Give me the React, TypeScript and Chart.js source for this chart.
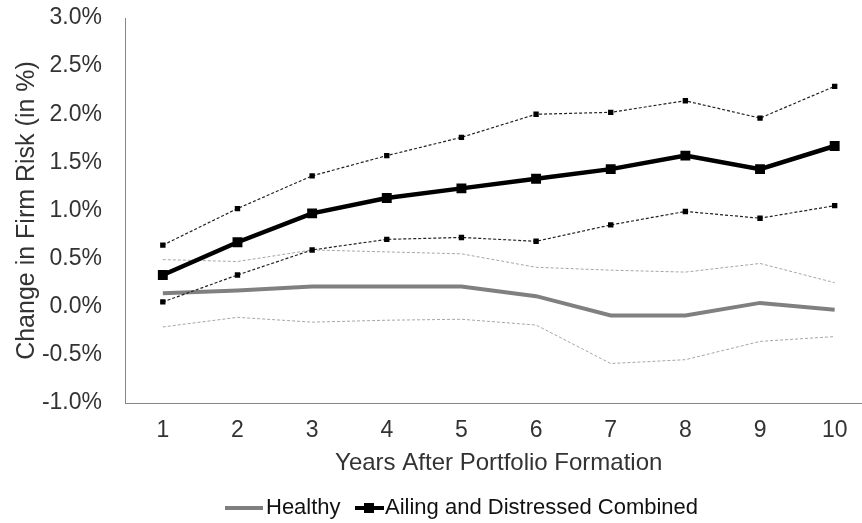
import React, { useEffect, useRef } from "react";
import { Chart, registerables } from "chart.js";

Chart.register(...registerables);

const years = [1, 2, 3, 4, 5, 6, 7, 8, 9, 10];
const yearLabels = ["1", "2", "3", "4", "5", "6", "7", "8", "9", "10"];

const healthy = [0.14, 0.17, 0.21, 0.21, 0.21, 0.11, -0.09, -0.09, 0.04, -0.03];
const healthyUpper = [0.49, 0.47, 0.59, 0.57, 0.55, 0.41, 0.38, 0.36, 0.45, 0.25];
const healthyLower = [-0.21, -0.11, -0.16, -0.14, -0.13, -0.19, -0.59, -0.55, -0.36, -0.31];

const ailing = [0.33, 0.67, 0.97, 1.13, 1.23, 1.33, 1.43, 1.57, 1.43, 1.67];
const ailingUpper = [0.64, 1.02, 1.36, 1.57, 1.76, 2.0, 2.02, 2.14, 1.96, 2.29];
const ailingLower = [0.05, 0.33, 0.59, 0.7, 0.72, 0.68, 0.85, 0.99, 0.92, 1.05];

const yTicks = [-1.0, -0.5, 0.0, 0.5, 1.0, 1.5, 2.0, 2.5, 3.0];

const seriesNames = ["Healthy", "Ailing and Distressed Combined"];

const FONT = "'Liberation Sans', Arial, sans-serif";
const TEXT = "#333333";
const AXIS = "#868686";

const toXY = (arr: number[]) => arr.map((v, i) => ({ x: years[i], y: v }));

const legendPlugin = {
  id: "customLegend",
  afterDraw(chart: any) {
    const ctx = chart.ctx;
    const y = 508;
    ctx.save();
    ctx.font = `22px ${FONT}`;
    ctx.textBaseline = "middle";
    // Healthy
    ctx.strokeStyle = "#7f7f7f";
    ctx.lineWidth = 4;
    ctx.beginPath();
    ctx.moveTo(225, y);
    ctx.lineTo(263, y);
    ctx.stroke();
    ctx.fillStyle = "#111";
    ctx.fillText(seriesNames[0], 266, y);
    // Ailing
    ctx.strokeStyle = "#000";
    ctx.beginPath();
    ctx.moveTo(355, y);
    ctx.lineTo(384, y);
    ctx.stroke();
    ctx.fillStyle = "#000";
    ctx.fillRect(364, y - 5, 10, 10);
    ctx.fillStyle = "#111";
    ctx.fillText(seriesNames[1], 385, y);
    ctx.restore();
  },
};

export default function App() {
  const ref = useRef<HTMLCanvasElement>(null);
  useEffect(() => {
    document.body.style.margin = "0";
    const canvas = ref.current!;
    const chart = new Chart(canvas, {
      type: "line",
      data: {
        datasets: [
          {
            label: "Ailing and Distressed Combined",
            data: toXY(ailing),
            borderColor: "#000",
            backgroundColor: "#000",
            borderWidth: 4.5,
            pointStyle: "rect",
            pointRadius: 7,
            pointBorderWidth: 0,
            order: 0,
          },
          {
            label: "Ailing upper",
            data: toXY(ailingUpper),
            borderColor: "#222",
            backgroundColor: "#000",
            borderWidth: 1.2,
            borderDash: [3, 2],
            pointStyle: "rect",
            pointRadius: 3.8,
            pointBorderWidth: 0,
            order: 1,
          },
          {
            label: "Ailing lower",
            data: toXY(ailingLower),
            borderColor: "#222",
            backgroundColor: "#000",
            borderWidth: 1.2,
            borderDash: [3, 2],
            pointStyle: "rect",
            pointRadius: 3.8,
            pointBorderWidth: 0,
            order: 1,
          },
          {
            label: "Healthy",
            data: toXY(healthy),
            borderColor: "#808080",
            borderWidth: 4,
            pointRadius: 0,
            order: 2,
          },
          {
            label: "Healthy upper",
            data: toXY(healthyUpper),
            borderColor: "#a6a6a6",
            borderWidth: 1,
            borderDash: [3, 2],
            pointRadius: 0,
            order: 3,
          },
          {
            label: "Healthy lower",
            data: toXY(healthyLower),
            borderColor: "#a6a6a6",
            borderWidth: 1,
            borderDash: [3, 2],
            pointRadius: 0,
            order: 3,
          },
        ],
      },
      options: {
        responsive: false,
        animation: false,
        devicePixelRatio: 1,
        layout: { padding: { top: 18, right: 0, bottom: 45, left: 0 } },
        plugins: { legend: { display: false }, tooltip: { enabled: false } },
        scales: {
          x: {
            type: "linear",
            min: 0.5,
            max: 10.5,
            afterBuildTicks: (axis: any) => {
              axis.ticks = years.map((v) => ({ value: v }));
            },
            afterFit: (axis: any) => {
              axis.height = 75;
              axis.paddingLeft = 0;
              axis.paddingRight = 0;
            },
            grid: { display: false, drawTicks: false },
            border: { display: true, color: AXIS, width: 1 },
            ticks: {
              padding: 14,
              color: TEXT,
              font: { family: FONT, size: 23 },
              callback: (v: any) => {
                const i = years.indexOf(Number(v));
                return i >= 0 ? yearLabels[i] : "";
              },
            },
            title: {
              display: true,
              text: "Years After Portfolio Formation",
              color: TEXT,
              font: { family: FONT, size: 24 },
              padding: { top: 0, bottom: 0 },
            },
          },
          y: {
            min: -1,
            max: 3,
            afterBuildTicks: (axis: any) => {
              axis.ticks = yTicks.map((v) => ({ value: v }));
            },
            afterFit: (axis: any) => {
              axis.width = 125.5;
              axis.paddingTop = 0;
              axis.paddingBottom = 0;
            },
            grid: { display: false, drawTicks: false },
            border: { display: true, color: AXIS, width: 1 },
            ticks: {
              padding: 23.5,
              color: TEXT,
              font: { family: FONT, size: 23 },
              callback: (v: any) => Number(v).toFixed(1) + "%",
            },
            title: {
              display: true,
              text: "Change in Firm Risk (in %)",
              color: TEXT,
              font: { family: FONT, size: 25 },
              padding: { top: 12, bottom: 0 },
            },
          },
        },
      },
      plugins: [legendPlugin],
    } as any);
    return () => chart.destroy();
  }, []);
  return (
    <div style={{ width: 862, height: 523, background: "#fff", overflow: "hidden" }}>
      <canvas ref={ref} width={879} height={523} style={{ display: "block" }} />
    </div>
  );
}
